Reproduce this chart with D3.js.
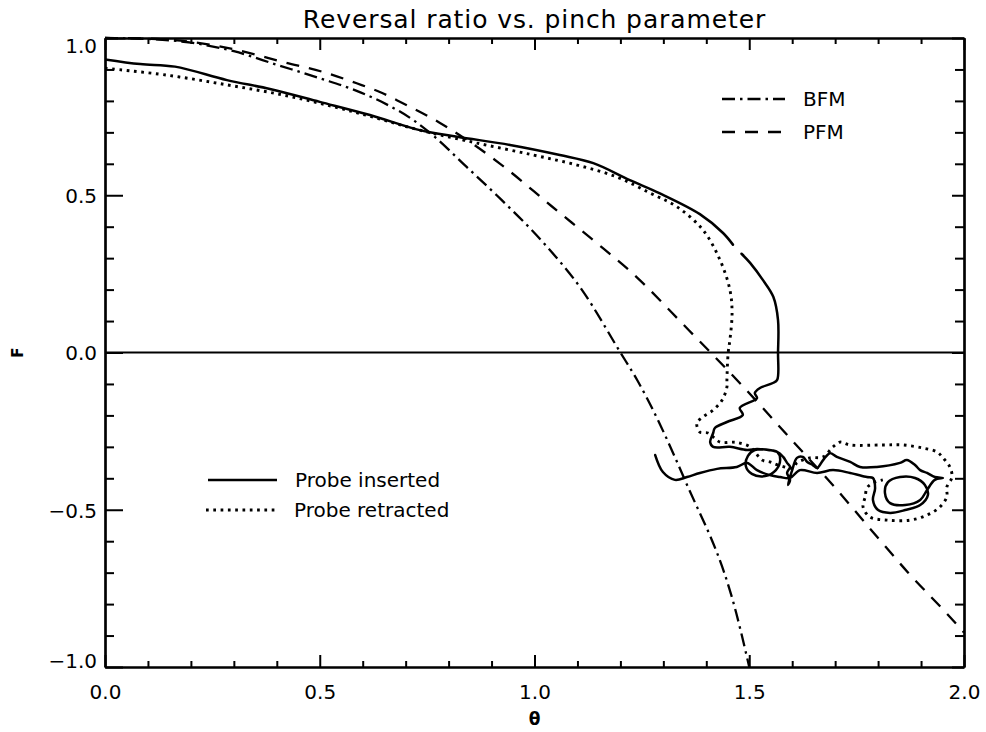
<!DOCTYPE html>
<html>
<head>
<meta charset="utf-8">
<script src="https://cdn.jsdelivr.net/npm/d3@7"></script>
<style>
  body { margin: 0; background: #fff; }
  text { font-family: "DejaVu Sans", sans-serif; fill: #000; }
</style>
</head>
<body>
<svg id="chart" width="986" height="732"></svg>
<script>
// ---- data -------------------------------------------------------------
const titleText = "Reversal ratio vs. pinch parameter";
const xLabel = "\u03b8";
const yLabel = "F";
const xMajorTicks = [0.0, 0.5, 1.0, 1.5, 2.0];
const yMajorTicks = [-1.0, -0.5, 0.0, 0.5, 1.0];

// Bessel function model
const bfmTheta = [0.00, 0.10, 0.20, 0.30, 0.40, 0.50, 0.586, 0.644, 0.722, 0.764, 0.842, 0.912, 1.02, 1.11, 1.20, 1.24, 1.35, 1.47, 1.50];
const bfmF     = [1.00, 0.997, 0.985, 0.958, 0.915, 0.872, 0.832, 0.797, 0.735, 0.690, 0.590, 0.500, 0.350, 0.200, 0.000, -0.090, -0.405, -0.830, -1.000];

// Partially relaxed model
const pfmTheta = [0.00, 0.10, 0.20, 0.30, 0.42, 0.505, 0.586, 0.644, 0.69, 0.78, 0.92, 1.04, 1.16, 1.22, 1.36, 1.41, 1.48, 1.60, 1.70, 1.80, 1.87, 1.96, 2.00];
const pfmF     = [1.00, 0.998, 0.988, 0.964, 0.922, 0.893, 0.856, 0.826, 0.795, 0.730, 0.600, 0.465, 0.331, 0.262, 0.070, 0.000, -0.100, -0.280, -0.430, -0.590, -0.700, -0.830, -0.890];

// Probe inserted (null marks a short break in the recorded trace)
const insertedTheta = [
  0.000, 0.082, 0.163, 0.284, 0.384, 0.500, 0.617, 0.733, 0.820, 0.943,
  1.059, 1.137, 1.222, 1.292, 1.385, 1.439, 1.462, null, 1.482, 1.502,
  1.532, 1.556,
  1.567, 1.567, 1.565, 1.555, 1.525, 1.513, 1.518, 1.478, 1.485, 1.448,
  1.420, 1.416, 1.409, 1.416, 1.455, 1.495,
  1.518, 1.544, 1.565, 1.572, 1.562, 1.537, 1.506, 1.492, 1.497, 1.513,
  1.565, 1.579, 1.588, 1.595, 1.588, 1.595, 1.590, 1.600, 1.611, 1.625,
  1.635, 1.648, 1.658, 1.672, 1.688, 1.704, 1.735, 1.758, 1.797, 1.851,
  1.867, 1.886, 1.898, 1.914, 1.932, 1.951,
  1.932, 1.914, 1.898, 1.863, 1.828, 1.816, 1.823, 1.851, 1.886, 1.909,
  1.916, 1.898, 1.863, 1.828, 1.800, 1.788, 1.793, 1.788,
  1.774, 1.735, 1.695, 1.658, 1.618, 1.595, 1.572, 1.548, 1.518, 1.495,
  1.471, 1.425, 1.385, 1.355, 1.327, 1.299, 1.281
];
const insertedF = [
  0.932, 0.917, 0.909, 0.866, 0.838, 0.797, 0.755, 0.707, 0.686, 0.660,
  0.628, 0.602, 0.548, 0.506, 0.440, 0.380, 0.343, null, 0.314, 0.285,
  0.230, 0.177,
  0.103, 0.000, -0.087, -0.097, -0.113, -0.129, -0.145, -0.176, -0.199, -0.221,
  -0.240, -0.256, -0.285, -0.300, -0.300, -0.310,
  -0.307, -0.310, -0.316, -0.342, -0.374, -0.393, -0.386, -0.361, -0.329, -0.310,
  -0.316, -0.332, -0.351, -0.364, -0.383, -0.405, -0.421, -0.374, -0.335, -0.332,
  -0.348, -0.358, -0.367, -0.342, -0.320, -0.332, -0.348, -0.364, -0.364, -0.351,
  -0.342, -0.358, -0.374, -0.383, -0.396, -0.399,
  -0.405, -0.437, -0.469, -0.485, -0.479, -0.447, -0.412, -0.396, -0.399, -0.421,
  -0.453, -0.485, -0.501, -0.510, -0.501, -0.469, -0.431, -0.399,
  -0.396, -0.383, -0.374, -0.383, -0.374, -0.399, -0.396, -0.390, -0.374, -0.351,
  -0.364, -0.370, -0.383, -0.396, -0.405, -0.380, -0.326
];

// Probe retracted
const retractedTheta = [
  0.000, 0.144, 0.284, 0.414, 0.531, 0.633, 0.733, 0.866, 0.997, 1.099,
  1.192, 1.269, 1.332, 1.392, 1.432, 1.455, 1.460, 1.455, 1.451, 1.448,
  1.448, 1.437, 1.416, 1.392, 1.378, 1.385, 1.404, 1.432, 1.462, 1.478,
  1.502, 1.530, 1.548, 1.567, 1.602, 1.611, 1.641, 1.672, 1.695, 1.711,
  1.735, 1.811, 1.858, 1.905, 1.937, 1.951, 1.967, 1.972, 1.960, 1.960,
  1.944, 1.914, 1.874, 1.821, 1.781, 1.765, 1.770, 1.774, 1.788, 1.811
];
const retractedF = [
  0.904, 0.882, 0.851, 0.819, 0.782, 0.745, 0.707, 0.666, 0.628, 0.596,
  0.558, 0.507, 0.463, 0.390, 0.294, 0.199, 0.126, 0.040, 0.000, -0.087,
  -0.110, -0.151, -0.183, -0.205, -0.224, -0.253, -0.256, -0.285, -0.285, -0.288,
  -0.300, -0.342, -0.348, -0.358, -0.367, -0.351, -0.335, -0.332, -0.300, -0.285,
  -0.294, -0.294, -0.294, -0.304, -0.316, -0.335, -0.364, -0.396, -0.428, -0.459,
  -0.491, -0.517, -0.533, -0.533, -0.523, -0.491, -0.459, -0.431, -0.415, -0.405
];

// ---- layout -----------------------------------------------------------
const svg = d3.select("#chart");
const plot = { left: 105, right: 964, top: 38, bottom: 667 };

const x = d3.scaleLinear().domain([0, 2]).range([plot.left, plot.right]);
const y = d3.scaleLinear().domain([-1, 1]).range([plot.bottom, plot.top]);

const xMinor = d3.range(0, 2.0001, 0.1).map(v => +v.toFixed(1)).filter(v => !xMajorTicks.includes(v));
const yMinor = d3.range(-1, 1.0001, 0.1).map(v => +v.toFixed(1)).filter(v => !yMajorTicks.includes(v));
const fmt = d3.format(".1f");

function styleAxis(g) {
  g.select(".domain").attr("stroke", "#000").attr("stroke-width", 2.2);
  g.selectAll(".tick line").attr("stroke", "#000").attr("stroke-width", 2);
  g.selectAll(".tick text").style("font-family", "DejaVu Sans, sans-serif").style("font-size", "20px").attr("fill", "#000");
}

// bottom axis with labels
svg.append("g").attr("transform", `translate(0,${plot.bottom})`)
  .call(d3.axisBottom(x).tickValues(xMajorTicks).tickSize(-12).tickSizeOuter(0).tickPadding(18).tickFormat(fmt))
  .call(styleAxis);
svg.append("g").attr("transform", `translate(0,${plot.bottom})`)
  .call(d3.axisBottom(x).tickValues(xMinor).tickSize(-6).tickSizeOuter(0).tickFormat(""))
  .call(styleAxis);
// top axis, ticks only
svg.append("g").attr("transform", `translate(0,${plot.top})`)
  .call(d3.axisTop(x).tickValues(xMajorTicks).tickSize(-12).tickSizeOuter(0).tickFormat(""))
  .call(styleAxis);
svg.append("g").attr("transform", `translate(0,${plot.top})`)
  .call(d3.axisTop(x).tickValues(xMinor).tickSize(-6).tickSizeOuter(0).tickFormat(""))
  .call(styleAxis);
// left axis with labels; the end labels sit inside the frame height
svg.append("g").attr("transform", `translate(${plot.left},0)`)
  .call(d3.axisLeft(y).tickValues(yMajorTicks).tickSize(-18).tickSizeOuter(0).tickPadding(8).tickFormat(fmt))
  .call(styleAxis)
  .call(g => g.selectAll(".tick text")
    .attr("transform", d => d === 1 ? "translate(0,8)" : d === -1 ? "translate(0,-6)" : "translate(0,1)"));
svg.append("g").attr("transform", `translate(${plot.left},0)`)
  .call(d3.axisLeft(y).tickValues(yMinor).tickSize(-9).tickSizeOuter(0).tickFormat(""))
  .call(styleAxis);
// right axis, ticks only
svg.append("g").attr("transform", `translate(${plot.right},0)`)
  .call(d3.axisRight(y).tickValues(yMajorTicks).tickSize(-12).tickSizeOuter(0).tickFormat(""))
  .call(styleAxis);
svg.append("g").attr("transform", `translate(${plot.right},0)`)
  .call(d3.axisRight(y).tickValues(yMinor).tickSize(-9).tickSizeOuter(0).tickFormat(""))
  .call(styleAxis);

// F = 0 reference line
svg.append("line")
  .attr("x1", x(0)).attr("x2", x(2)).attr("y1", y(0)).attr("y2", y(0))
  .attr("stroke", "#000").attr("stroke-width", 2);

// ---- curves -----------------------------------------------------------
const zip = (a, b) => a.map((v, i) => [v, b[i]]);
const hasValue = d => d[0] !== null && d[1] !== null;
const smoothLine = d3.line().x(d => x(d[0])).y(d => y(d[1])).curve(d3.curveMonotoneX);
const traceLine  = d3.line().defined(hasValue).x(d => x(d[0])).y(d => y(d[1])).curve(d3.curveCatmullRom.alpha(0.5));

const styles = {
  bfm:       { dash: "13,5,2.5,5", width: 2.3, cap: "butt" },
  pfm:       { dash: "13,10",      width: 2.3, cap: "butt" },
  inserted:  { dash: null,         width: 2.5, cap: "round" },
  retracted: { dash: "2.7,4.6",    width: 2.9, cap: "butt" }
};

svg.append("clipPath").attr("id", "plotClip")
  .append("rect").attr("x", plot.left).attr("y", plot.top - 2)
  .attr("width", plot.right - plot.left).attr("height", plot.bottom - plot.top + 4);

const curves = svg.append("g").attr("clip-path", "url(#plotClip)");
function drawCurve(data, gen, st) {
  const p = curves.append("path").datum(data)
    .attr("d", gen)
    .attr("fill", "none")
    .attr("stroke", "#000")
    .attr("stroke-width", st.width)
    .attr("stroke-linecap", st.cap)
    .attr("stroke-linejoin", "round");
  if (st.dash) p.attr("stroke-dasharray", st.dash);
}
drawCurve(zip(bfmTheta, bfmF), smoothLine, styles.bfm);
drawCurve(zip(pfmTheta, pfmF), smoothLine, styles.pfm);
drawCurve(zip(retractedTheta, retractedF), traceLine, styles.retracted);
drawCurve(zip(insertedTheta, insertedF), traceLine, styles.inserted);

// ---- legends ----------------------------------------------------------
function legendItem(x1, x2, yy, label, st) {
  const l = svg.append("line").attr("x1", x1).attr("x2", x2).attr("y1", yy).attr("y2", yy)
    .attr("stroke", "#000").attr("stroke-width", st.width).attr("stroke-linecap", "butt");
  if (st.dash) l.attr("stroke-dasharray", st.dash);
  svg.append("text").attr("x", x2 + 18).attr("y", yy + 7).style("font-size", "20px").text(label);
}
legendItem(722, 785, 99, "BFM", styles.bfm);
legendItem(722, 785, 132, "PFM", styles.pfm);
legendItem(208, 277, 480, "Probe inserted", styles.inserted);
legendItem(206, 276, 510, "Probe retracted", styles.retracted);

// ---- titles -----------------------------------------------------------
svg.append("text").attr("x", (plot.left + plot.right) / 2).attr("y", 28)
  .attr("text-anchor", "middle").style("font-size", "25px").style("letter-spacing", "0.9px").text(titleText);
svg.append("text").attr("x", (plot.left + plot.right) / 2).attr("y", 725)
  .attr("text-anchor", "middle").style("font-size", "17px").style("font-weight", "bold").text(xLabel);
svg.append("text").attr("transform", `translate(23,${y(0)}) rotate(-90)`)
  .attr("text-anchor", "middle").style("font-size", "15px").style("font-weight", "bold").text(yLabel);
</script>
</body>
</html>
